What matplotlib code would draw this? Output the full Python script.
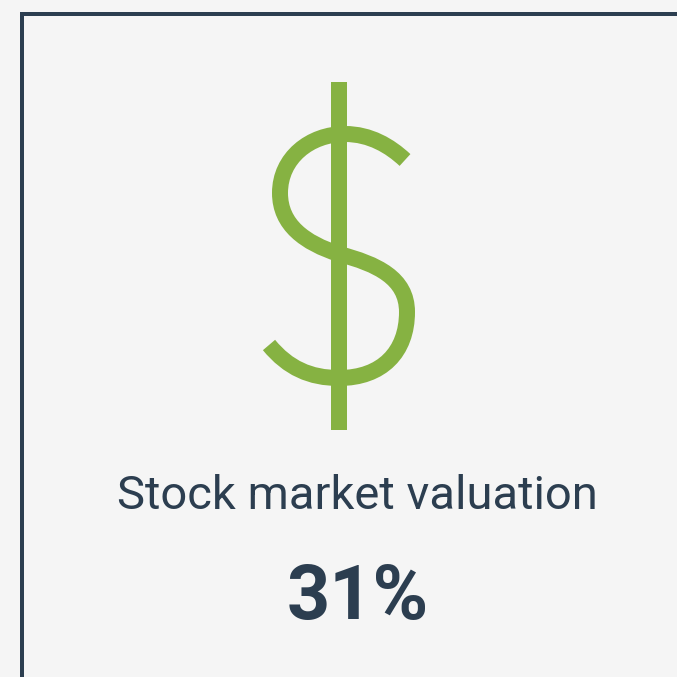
#!/usr/bin/env python3
"""Single-stat card: dollar icon, label and percentage."""
import matplotlib
matplotlib.use('Agg')
import matplotlib.pyplot as plt
from matplotlib.patches import PathPatch
from matplotlib.path import Path

LABEL = 'Stock market valuation'
VALUE = '31%'

BG = '#f5f5f5'
DARK = '#2c3e50'
GREEN = '#86b242'

# icon geometry, in pixels (cubic bezier knots and handles)
bar_x = [339, 339]
bar_y = [82, 430]
curve_x = [405, 390, 370, 345, 310, 280, 280, 280, 305, 339, 377, 407, 407, 407, 382, 339, 310, 288, 269]
curve_y = [160, 146, 134, 134, 134, 158, 193, 225, 243, 254, 264, 278, 312, 352, 378, 378, 378, 368, 345]
border_x = [22, 22, 677]
border_y = [677, 14, 14]

SIZE = 677
px = 72 / 100  # points per pixel at dpi 100

fig = plt.figure(figsize=(SIZE / 100, SIZE / 100), dpi=100, facecolor=BG)
ax = fig.add_axes([0, 0, 1, 1])
ax.set_xlim(0, SIZE)
ax.set_ylim(SIZE, 0)
ax.axis('off')

ax.plot(border_x, border_y, color=DARK, lw=4 * px, solid_joinstyle='miter', solid_capstyle='butt')

codes = [Path.MOVETO] + [Path.CURVE4] * (len(curve_x) - 1)
curve = Path(list(zip(curve_x, curve_y)), codes)
ax.add_patch(PathPatch(curve, fill=False, edgecolor=GREEN, lw=16 * px, capstyle='butt', joinstyle='round'))
ax.plot(bar_x, bar_y, color=GREEN, lw=16 * px, solid_capstyle='butt')

ax.text(357, 496, LABEL, family='Roboto', fontsize=33.9, color=DARK, ha='center', va='center')
ax.text(358, 599, VALUE, family='Roboto', fontsize=54.4, weight='bold', color=DARK, ha='center', va='center')

fig.savefig('out.png', dpi=100, facecolor=BG)
plt.close(fig)
